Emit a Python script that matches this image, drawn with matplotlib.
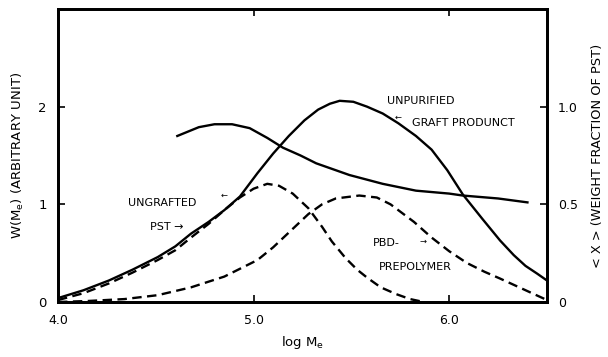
import matplotlib
matplotlib.use("Agg")
import matplotlib.pyplot as plt

# Unpurified graft product (solid, left axis)
x_unpur = [4.00, 4.13, 4.26, 4.38, 4.51, 4.60, 4.68, 4.77, 4.85, 4.93, 5.02, 5.10, 5.18,
           5.26, 5.33, 5.39, 5.44, 5.51, 5.58, 5.66, 5.74, 5.83, 5.91, 5.99, 6.07, 6.17,
           6.26, 6.33, 6.39, 6.45, 6.50]
w_unpur = [0.04, 0.12, 0.22, 0.33, 0.46, 0.57, 0.70, 0.82, 0.94, 1.08, 1.32, 1.52, 1.70,
           1.86, 1.97, 2.03, 2.06, 2.05, 2.00, 1.93, 1.83, 1.70, 1.56, 1.35, 1.10, 0.85,
           0.63, 0.48, 0.37, 0.29, 0.22]

# Ungrafted PST (dashed, left axis)
x_pst = [4.00, 4.13, 4.26, 4.38, 4.51, 4.60, 4.68, 4.77, 4.85, 4.93, 5.00, 5.07, 5.13,
         5.20, 5.28, 5.35, 5.40, 5.47, 5.53, 5.58, 5.65, 5.73, 5.80, 5.87]
w_pst = [0.02, 0.09, 0.19, 0.30, 0.43, 0.53, 0.66, 0.80, 0.94, 1.07, 1.16, 1.21, 1.19,
         1.11, 0.96, 0.77, 0.62, 0.45, 0.33, 0.25, 0.15, 0.08, 0.03, 0.00]

# PBD prepolymer (dashed, left axis)
x_pbd = [4.00, 4.15, 4.34, 4.51, 4.68, 4.85, 5.02, 5.10, 5.19, 5.28, 5.35, 5.42, 5.54,
         5.63, 5.70, 5.74, 5.82, 5.91, 6.00, 6.09, 6.18, 6.26, 6.38, 6.50]
w_pbd = [0.00, 0.01, 0.03, 0.07, 0.15, 0.26, 0.43, 0.56, 0.73, 0.90, 1.00, 1.06, 1.09,
         1.07, 1.00, 0.94, 0.82, 0.66, 0.52, 0.40, 0.31, 0.24, 0.13, 0.02]

# <X> weight fraction of PST (solid, right axis)
x_frac = [4.61, 4.72, 4.80, 4.89, 4.98, 5.07, 5.15, 5.24, 5.32, 5.49, 5.66, 5.83, 6.00,
          6.07, 6.25, 6.40]
frac = [0.85, 0.895, 0.91, 0.91, 0.89, 0.84, 0.79, 0.75, 0.71, 0.65, 0.605, 0.57, 0.555,
        0.545, 0.53, 0.51]

x_ticks = [4.0, 5.0, 6.0]
x_ticklabels = ["4.0", "5.0", "6.0"]
yl_ticks = [0, 1, 2]
yl_ticklabels = ["0", "1", "2"]
yr_ticks = [0, 0.5, 1.0]
yr_ticklabels = ["0", "0.5", "1.0"]

plt.rcParams['font.family'] = ['DejaVu Sans']
fig = plt.figure(figsize=(6.08, 3.57), dpi=100)
ax = fig.add_axes([58/608, 55/357, (547-58)/608, (302-9)/357])
ax2 = ax.twinx()

lw = 1.7
dash = (4.0, 2.3)
ax.plot(x_unpur, w_unpur, color='black', lw=lw)
ax.plot(x_pst, w_pst, color='black', lw=lw, dashes=dash)
ax.plot(x_pbd, w_pbd, color='black', lw=lw, dashes=dash)
ax2.plot(x_frac, frac, color='black', lw=lw)

ax.set_xlim(4.0, 6.5)
ax.set_ylim(0, 3.0)
ax2.set_ylim(0, 1.5)

for a in (ax, ax2):
    for s in a.spines.values():
        s.set_linewidth(2.0)

ax.set_xticks(x_ticks)
ax.set_xticklabels(x_ticklabels, fontsize=9)
ax.set_yticks(yl_ticks)
ax.set_yticklabels(yl_ticklabels, fontsize=9.5)
ax.tick_params(axis='x', direction='in', length=5, width=1.2, pad=9, top=True)
ax.tick_params(axis='y', direction='in', length=5, width=1.2, pad=8)
ax2.set_yticks(yr_ticks)
ax2.set_yticklabels(yr_ticklabels, fontsize=9)
ax2.tick_params(axis='y', direction='in', length=5, width=1.2, pad=8)

ax.set_xlabel("log M$_\\mathregular{e}$", fontsize=9.5, labelpad=5)
ax.set_ylabel("W(M$_\\mathregular{e}$) (ARBITRARY UNIT)", fontsize=9.5, labelpad=9)
ax2.set_ylabel("< X > (WEIGHT FRACTION OF PST)", fontsize=9.3, labelpad=9)

fs = 8
ax.text(4.36, 1.01, "UNGRAFTED", fontsize=fs, va='center', ha='left')
ax.text(4.47, 0.77, "PST \u2192", fontsize=fs, va='center', ha='left')
ax.text(4.83, 1.09, "\u2190", fontsize=6, va='center', ha='left')
ax.text(5.68, 2.06, "UNPURIFIED", fontsize=fs, va='center', ha='left')
ax.text(5.81, 1.83, "GRAFT PRODUNCT", fontsize=fs, va='center', ha='left')
ax.text(5.72, 1.89, "\u2190", fontsize=6, va='center', ha='left')
ax.text(5.61, 0.60, "PBD-", fontsize=fs, va='center', ha='left')
ax.text(5.85, 0.62, "\u2192", fontsize=6, va='center', ha='left')
ax.text(5.64, 0.36, "PREPOLYMER", fontsize=fs, va='center', ha='left')

fig.savefig("out.png", dpi=100)
